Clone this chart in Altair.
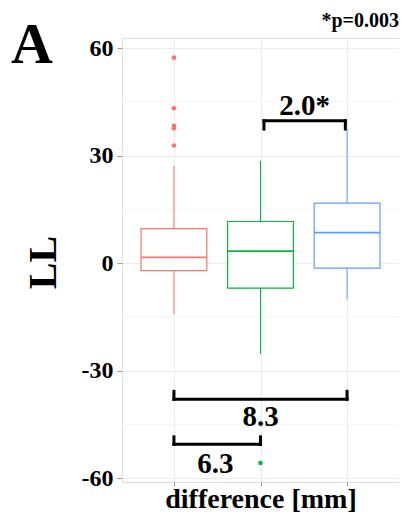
import altair as alt
import pandas as pd

# ---- data ----
groups = ["Group 1", "Group 2", "Group 3"]
positions = [1, 2, 3]
colors = ["#F8766D", "#00BA38", "#619CFF"]
whisk_lo = [-14.2, -25.4, -10.1]
q1 = [-2.1, -7.0, -1.4]
median = [1.6, 3.3, 8.5]
q3 = [9.6, 11.6, 16.7]
whisk_hi = [27.1, 28.5, 37.3]

outlier_group = ["Group 1", "Group 1", "Group 1", "Group 1", "Group 1", "Group 2"]
outlier_value = [57.3, 43.2, 38.3, 37.6, 32.8, -55.8]

bracket_x1 = [2.04, 1.0, 1.0]
bracket_x2 = [2.98, 3.0, 2.0]
bracket_y = [39.7, -38.0, -50.6]
bracket_tip = [37.4, -35.8, -48.5]
bracket_label = ["2.0*", "8.3", "6.3"]
label_x = [2.51, 2.0, 1.48]
label_y = [41.3, -45.5, -58.6]

minor_grid = [-45, -15, 15, 45]
major_ticks = [-60, -30, 0, 30, 60]

FONT = "Liberation Serif, Times New Roman, serif"
HALF = 0.38
W, H = 277, 444

box_df = pd.DataFrame({
    "group": groups, "pos": positions, "lo": whisk_lo, "q1": q1,
    "med": median, "q3": q3, "hi": whisk_hi,
})
box_df["left"] = box_df["pos"] - HALF
box_df["right"] = box_df["pos"] + HALF

pos_map = dict(zip(groups, positions))
out_df = pd.DataFrame({"group": outlier_group, "value": outlier_value})
out_df["pos"] = out_df["group"].map(pos_map)

br_df = pd.DataFrame({"x1": bracket_x1, "x2": bracket_x2, "y": bracket_y, "tip": bracket_tip})
lab_df = pd.DataFrame({"label": bracket_label, "x": label_x, "y": label_y})
minor_df = pd.DataFrame({"v": minor_grid})

xscale = alt.Scale(domain=[0.4, 3.6], nice=False, zero=False)
yscale = alt.Scale(domain=[-61.1, 62.8], nice=False, zero=False)
color = alt.Color("group:N", scale=alt.Scale(domain=groups, range=colors), legend=None)

xaxis = alt.Axis(values=positions, labels=False, title="difference [mm]", grid=True,
                 gridColor="#ebebeb", tickColor="#999999", tickSize=4, domain=False,
                 titleFont=FONT, titleFontSize=28, titleFontWeight="bold",
                 titleColor="black", titleX=W / 2, titleY=25, titleBaseline="alphabetic",
                 titleAlign="center")
yaxis = alt.Axis(values=major_ticks, title="LL", grid=True, gridColor="#ebebeb",
                 tickColor="#999999", tickSize=5, domain=False,
                 labelExpr="'' + datum.value",
                 labelFont=FONT, labelFontSize=24, labelFontWeight="bold", labelColor="black",
                 labelPadding=4,
                 titleFont=FONT, titleFontSize=40, titleFontWeight="bold", titleColor="black",
                 titleX=-79, titleY=224, titleAngle=270, titleBaseline="middle",
                 titleAlign="center")

minor = alt.Chart(minor_df).mark_rule(color="#f4f4f4", strokeWidth=1).encode(
    y=alt.Y("v:Q", scale=yscale, axis=yaxis)
)

whisk = alt.Chart(box_df).mark_rule(strokeWidth=1).encode(
    x=alt.X("pos:Q", scale=xscale, axis=xaxis),
    y=alt.Y("lo:Q", scale=yscale),
    y2="hi:Q",
    color=color,
)

boxes = alt.Chart(box_df).mark_rect(fill="white", strokeWidth=1.2).encode(
    x=alt.X("left:Q", scale=xscale),
    x2="right:Q",
    y=alt.Y("q1:Q", scale=yscale),
    y2="q3:Q",
    stroke=alt.Stroke("group:N", scale=alt.Scale(domain=groups, range=colors), legend=None),
)

meds = alt.Chart(box_df).mark_rule(strokeWidth=1.8).encode(
    x=alt.X("left:Q", scale=xscale),
    x2="right:Q",
    y=alt.Y("med:Q", scale=yscale),
    color=color,
)

outs = alt.Chart(out_df).mark_circle(size=22, opacity=1).encode(
    x=alt.X("pos:Q", scale=xscale),
    y=alt.Y("value:Q", scale=yscale),
    color=color,
)

br_h = alt.Chart(br_df).mark_rule(strokeWidth=3, color="black", strokeCap="square").encode(
    x=alt.X("x1:Q", scale=xscale), x2="x2:Q", y=alt.Y("y:Q", scale=yscale)
)
br_l = alt.Chart(br_df).mark_rule(strokeWidth=3, color="black", strokeCap="square").encode(
    x=alt.X("x1:Q", scale=xscale), y=alt.Y("y:Q", scale=yscale), y2="tip:Q"
)
br_r = alt.Chart(br_df).mark_rule(strokeWidth=3, color="black", strokeCap="square").encode(
    x=alt.X("x2:Q", scale=xscale), y=alt.Y("y:Q", scale=yscale), y2="tip:Q"
)

labels = alt.Chart(lab_df).mark_text(font=FONT, fontSize=29, fontWeight="bold",
                                     color="black", baseline="alphabetic", align="center").encode(
    x=alt.X("x:Q", scale=xscale), y=alt.Y("y:Q", scale=yscale), text="label:N"
)

panel = alt.Chart(pd.DataFrame({"t": ["A"]})).mark_text(
    font=FONT, fontSize=58, fontWeight="bold", color="black", baseline="alphabetic", align="center"
).encode(x=alt.value(-90), y=alt.value(25), text="t:N")

pval = alt.Chart(pd.DataFrame({"t": ["*p=0.003"]})).mark_text(
    font=FONT, fontSize=20, fontWeight="bold", color="black", baseline="alphabetic", align="right"
).encode(x=alt.value(W), y=alt.value(-11), text="t:N")

chart = alt.layer(
    minor, whisk, boxes, meds, outs, br_h, br_l, br_r, labels, panel, pval
).properties(
    width=W, height=H,
    autosize=alt.AutoSizeParams(type="none"),
    padding={"left": 114, "top": 30, "right": 0, "bottom": 34},
).configure_view(stroke="#b0b0b0", strokeWidth=1).configure(background="white")

chart.save("out.html", embed_options={"renderer": "svg", "actions": False})
